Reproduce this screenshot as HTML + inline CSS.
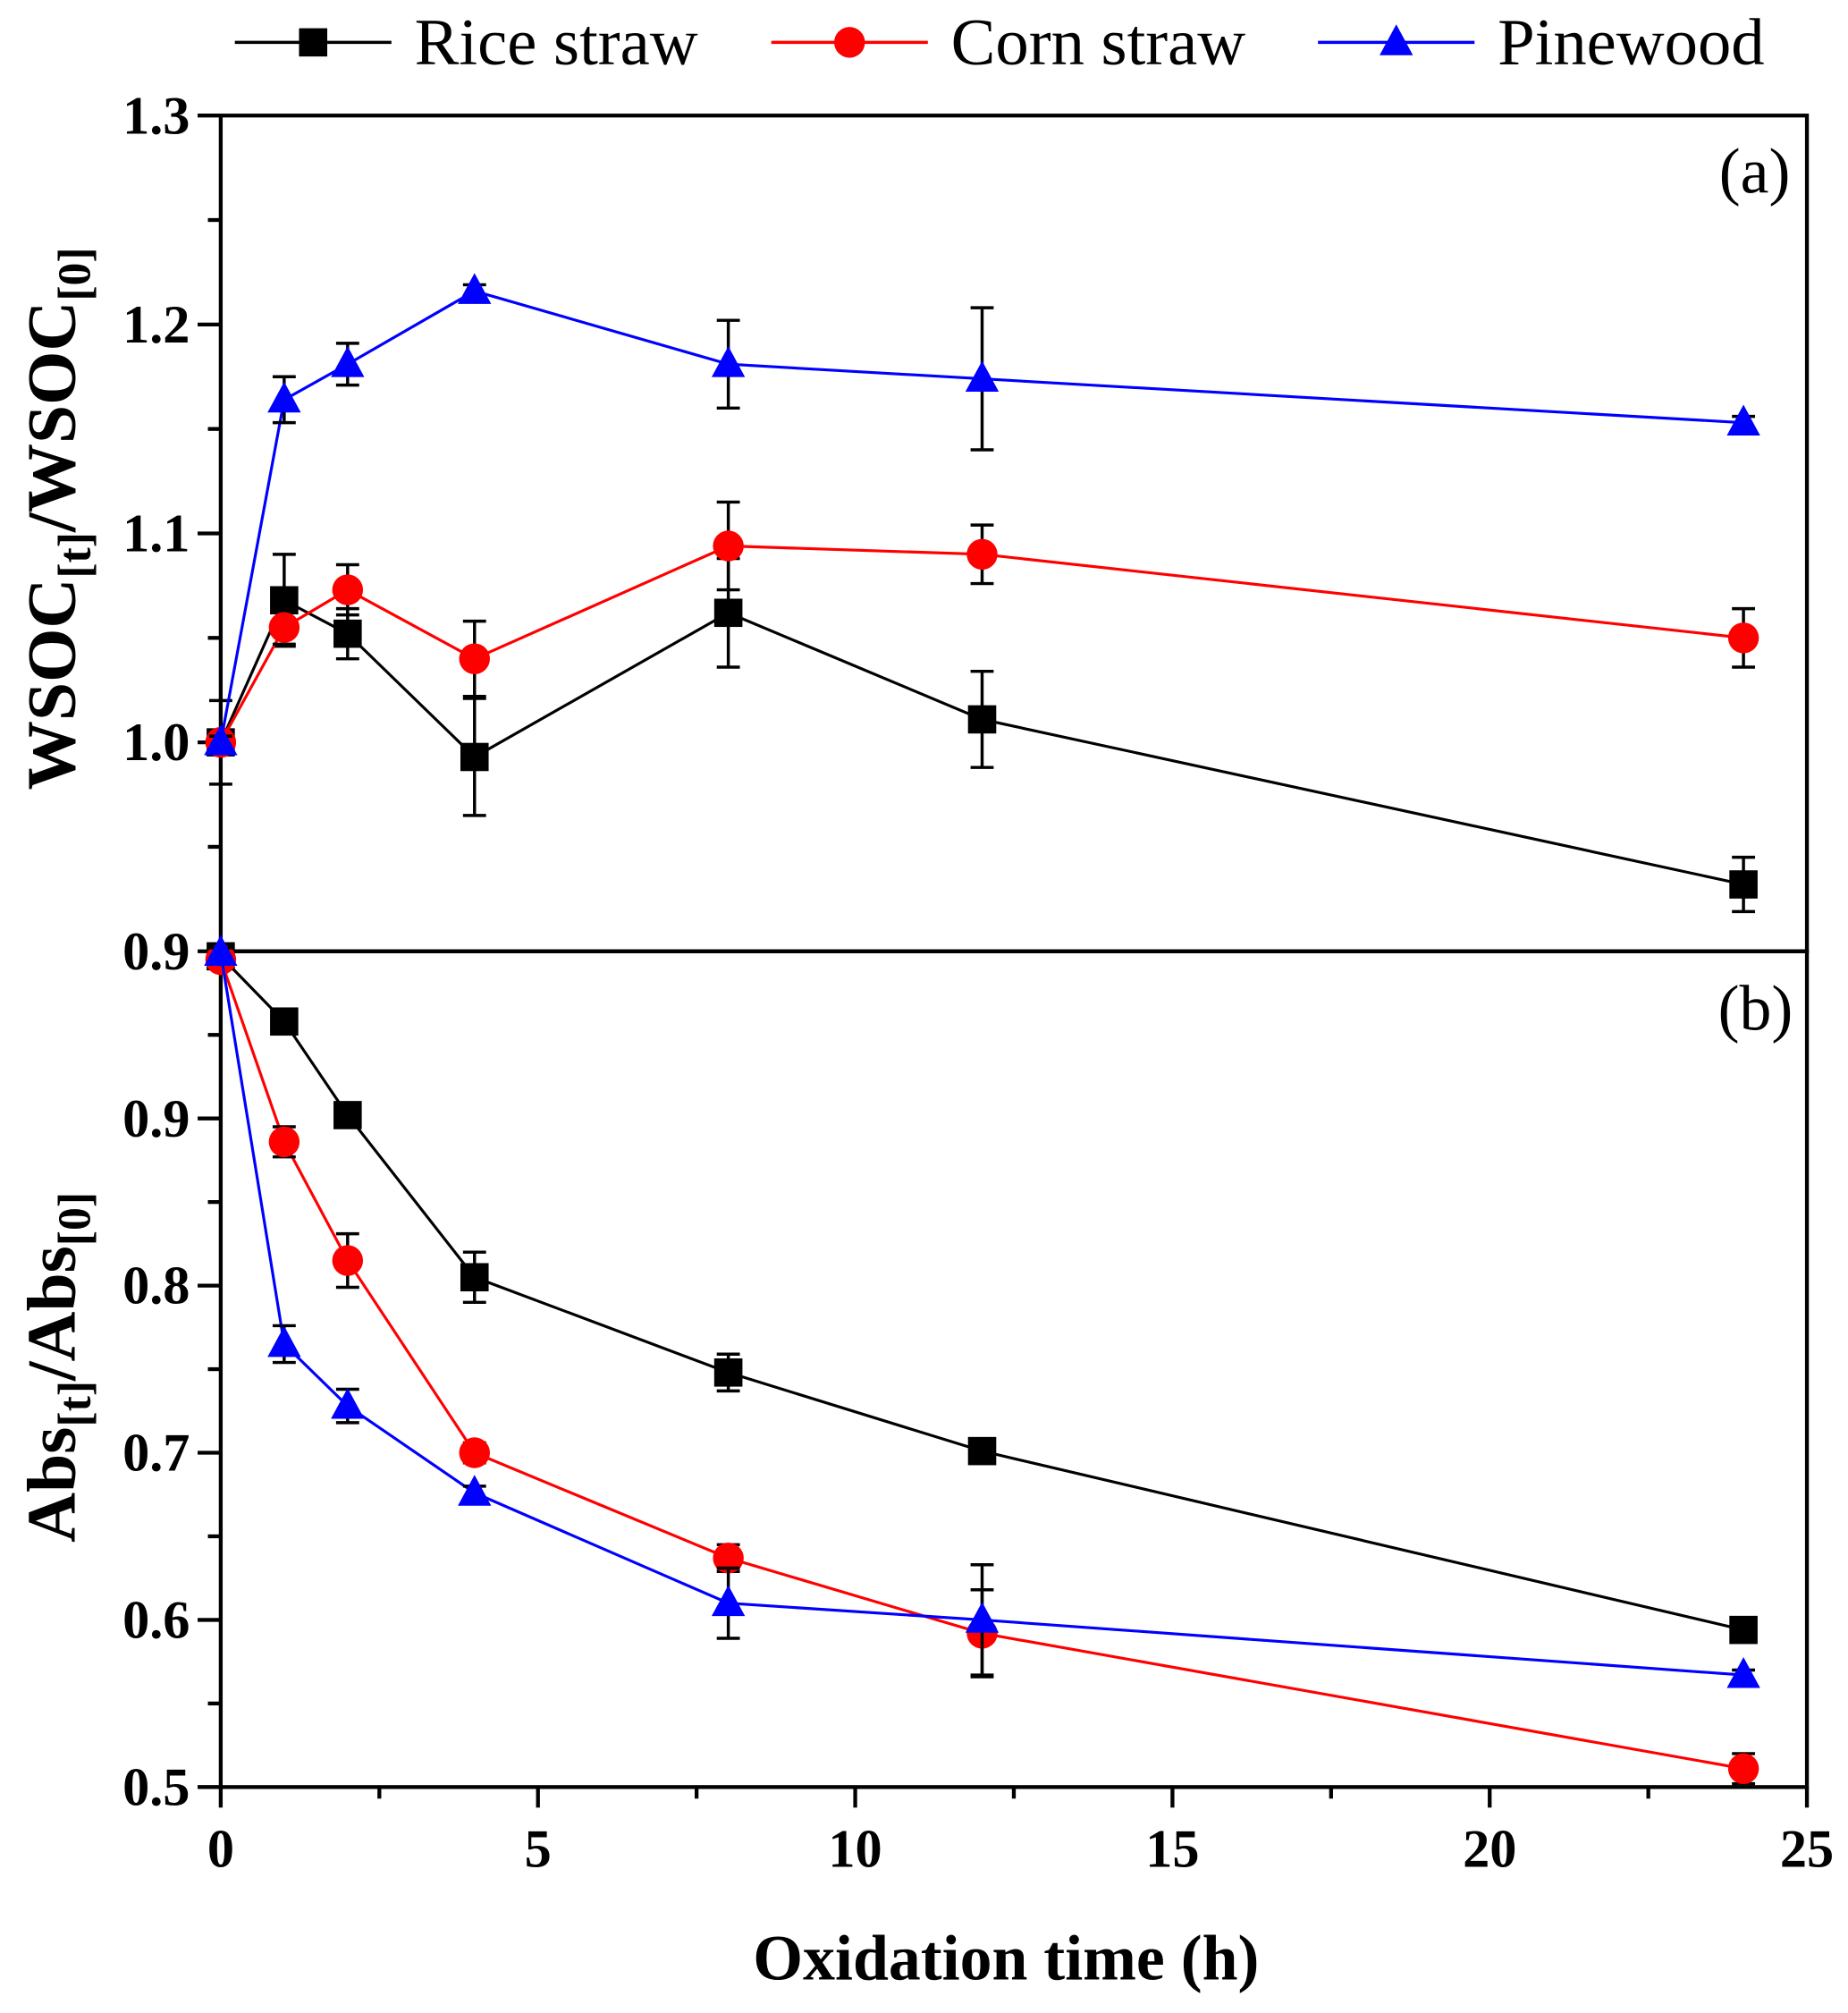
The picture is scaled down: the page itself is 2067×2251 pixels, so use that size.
<!DOCTYPE html>
<html><head><meta charset="utf-8"><style>
html,body{margin:0;padding:0;background:#fff;}
svg{display:block;}
text{font-family:"Liberation Serif",serif;}
</style></head><body>
<svg id="chart" width="2067" height="2251" viewBox="0 0 1440 1568" preserveAspectRatio="none" xmlns="http://www.w3.org/2000/svg">
<rect x="0" y="0" width="1440" height="1568" fill="#fff"/>
<g id="plots"></g>
</svg>
<script>
const xs = [0, 1, 2, 4, 8, 12, 24];
const seriesNames = ["Rice straw", "Corn straw", "Pinewood"];
const aRice = [1.0, 1.068, 1.052, 0.993, 1.062, 1.011, 0.932];
const aRiceErr = [0.02, 0.022, 0.012, 0.028, 0.026, 0.023, 0.013];
const aCorn = [1.0, 1.055, 1.073, 1.040, 1.094, 1.090, 1.050];
const aCornErr = [0.005, 0.008, 0.012, 0.018, 0.021, 0.014, 0.014];
const aPine = [1.0, 1.164, 1.181, 1.216, 1.181, 1.174, 1.153];
const aPineErr = [0.003, 0.011, 0.01, 0.003, 0.021, 0.034, 0.003];
const bRice = [0.997, 0.958, 0.902, 0.805, 0.748, 0.701, 0.594];
const bRiceErr = [0.005, 0.005, 0.005, 0.015, 0.011, 0.005, 0.005];
const bCorn = [0.995, 0.886, 0.815, 0.700, 0.637, 0.592, 0.511];
const bCornErr = [0.005, 0.009, 0.016, 0.006, 0.008, 0.026, 0.009];
const bPine = [0.999, 0.765, 0.728, 0.676, 0.610, 0.600, 0.567];
const bPineErr = [0.003, 0.011, 0.01, 0.004, 0.021, 0.033, 0.003];
const xTicks = [0, 5, 10, 15, 20, 25];
const aTicks = [1.3, 1.2, 1.1, 1.0, 0.9];
const aTickLabels = ["1.3", "1.2", "1.1", "1.0", "0.9"];
const bTicks = [0.9, 0.8, 0.7, 0.6, 0.5];
const bTickLabels = ["0.9", "0.8", "0.7", "0.6", "0.5"];

const NS = "http://www.w3.org/2000/svg";
const g = document.getElementById("plots");
const L = 172, R = 1408, TOP = 90, MID = 741, BOT = 1392;
const sx = v => L + (v / 25) * (R - L);
const syA = v => MID - (v - 0.9) / 0.4 * (MID - TOP);
const syB = v => BOT - (v - 0.5) / 0.5 * (BOT - MID);
const colors = ["#000", "#f00", "#00f"];
const markers = ["square", "circle", "triangle"];

function el(tag, attrs, parent) {
  const e = document.createElementNS(NS, tag);
  for (const k in attrs) e.setAttribute(k, attrs[k]);
  (parent || g).appendChild(e);
  return e;
}
function txt(x, y, s, size, weight, anchor, parent) {
  const t = el("text", {x: x, y: y, "font-size": size, "font-weight": weight, "text-anchor": anchor}, parent);
  t.textContent = s;
  return t;
}
function marker(type, x, y, c, parent) {
  let m;
  if (type === "square") m = el("rect", {x: x - 11, y: y - 11, width: 22, height: 22, fill: c}, parent);
  else if (type === "circle") m = el("circle", {cx: x, cy: y, r: 12, fill: c}, parent);
  else m = el("polygon", {points: `${x},${y - 14} ${x - 13},${y + 10} ${x + 13},${y + 10}`, fill: c}, parent);
  return m;
}
function drawSeries(vals, errs, sy, idx, name) {
  const sg = el("g", {});
  
  
  const c = colors[idx];
  const pts = xs.map((x, i) => `${sx(x)},${sy(vals[i])}`).join(" ");
  const pl = el("polyline", {points: pts, fill: "none", stroke: c, "stroke-width": 2.2}, sg);
  
  
  xs.forEach((x, i) => {
    const X = sx(x), y1 = sy(vals[i] + errs[i]), y2 = sy(vals[i] - errs[i]);
    const eb = el("path", {d: `M${X},${y1}V${y2}M${X - 9},${y1}H${X + 9}M${X - 9},${y2}H${X + 9}`, stroke: "#000", "stroke-width": 2.4, fill: "none"}, sg);
    
    
    const m = marker(markers[idx], X, sy(vals[i]), c, sg);
    
    
  });
}

const fa = el("rect", {x: L, y: TOP, width: R - L, height: MID - TOP, fill: "none", stroke: "#000", "stroke-width": 3});


const fb = el("rect", {x: L, y: MID, width: R - L, height: BOT - MID, fill: "none", stroke: "#000", "stroke-width": 3});



aTicks.forEach((v, i) => {
  const y = syA(v);
  el("line", {x1: L - 18, x2: L, y1: y, y2: y, stroke: "#000", "stroke-width": 3});
  const t = txt(L - 24, y + 14, aTickLabels[i], 42, "bold", "end");
  
  
});
[1.25, 1.15, 1.05, 0.95].forEach(v => el("line", {x1: L - 10, x2: L, y1: syA(v), y2: syA(v), stroke: "#000", "stroke-width": 3}));
bTicks.forEach((v, i) => {
  const yy = syB(bTicks[i]);
  el("line", {x1: L - 18, x2: L, y1: yy, y2: yy, stroke: "#000", "stroke-width": 3});
  if (i === 0) return;
  const t = txt(L - 24, yy + 14, bTickLabels[i], 42, "bold", "end");
  
  
});
// bottom panel labels: the reference shows "0.9" at the 1.0 position too; top "0.9" handled by panel a
const t09 = txt(L - 24, syB(0.9) + 14, "0.9", 42, "bold", "end");


[0.95, 0.85, 0.75, 0.65, 0.55].forEach(v => el("line", {x1: L - 10, x2: L, y1: syB(v), y2: syB(v), stroke: "#000", "stroke-width": 3}));
xTicks.forEach(v => {
  el("line", {x1: sx(v), x2: sx(v), y1: BOT, y2: BOT + 16, stroke: "#000", "stroke-width": 3});
  const t = txt(sx(v), BOT + 62, String(v), 42, "bold", "middle");
  
  
});
[2.5, 7.5, 12.5, 17.5, 22.5].forEach(v => el("line", {x1: sx(v), x2: sx(v), y1: BOT, y2: BOT + 9, stroke: "#000", "stroke-width": 3}));

drawSeries(aRice, aRiceErr, syA, 0, "rice-straw-a");
drawSeries(aCorn, aCornErr, syA, 1, "corn-straw-a");
drawSeries(aPine, aPineErr, syA, 2, "pinewood-a");
drawSeries(bRice, bRiceErr, syB, 0, "rice-straw-b");
drawSeries(bCorn, bCornErr, syB, 1, "corn-straw-b");
drawSeries(bPine, bPineErr, syB, 2, "pinewood-b");

let t = txt(1395, 150, "(a)", 50, "normal", "end");
 
t = txt(1397, 802, "(b)", 50, "normal", "end");
 

t = txt(784, 1542, "Oxidation time (h)", 50, "bold", "middle");
 

function yTitle(cx, cy, main, sub1, mid, sub2, name) {
  const tt = el("text", {x: 0, y: 0, "font-size": 54, "font-weight": "bold", "text-anchor": "middle", transform: `translate(${cx},${cy}) rotate(-90)`});
  
  
  const p = (s, dy, fs) => { const ts = el("tspan", {dy: dy, "font-size": fs}, tt); ts.textContent = s; };
  p(main, 0, 54); p(sub1, 12, 36); p(mid, -12, 54); p(sub2, 12, 36);
}
yTitle(58, 404, "WSOC", "[t]", "/WSOC", "[0]", "y-axis-title-a");
yTitle(58, 1065, "Abs", "[t]", "/Abs", "[0]", "y-axis-title-b");

const lg = el("g", {});


const lx = [183, 601, 1027];
seriesNames.forEach((n, i) => {
  const e = el("g", {}, lg);
  
  
  el("line", {x1: lx[i], x2: lx[i] + 122, y1: 33, y2: 33, stroke: colors[i], "stroke-width": 2.5}, e);
  marker(markers[i], lx[i] + 61, 33, colors[i], e);
  txt(lx[i] + 140, 50, n, 52, "normal", "start", e);
});
</script>
</body></html>
